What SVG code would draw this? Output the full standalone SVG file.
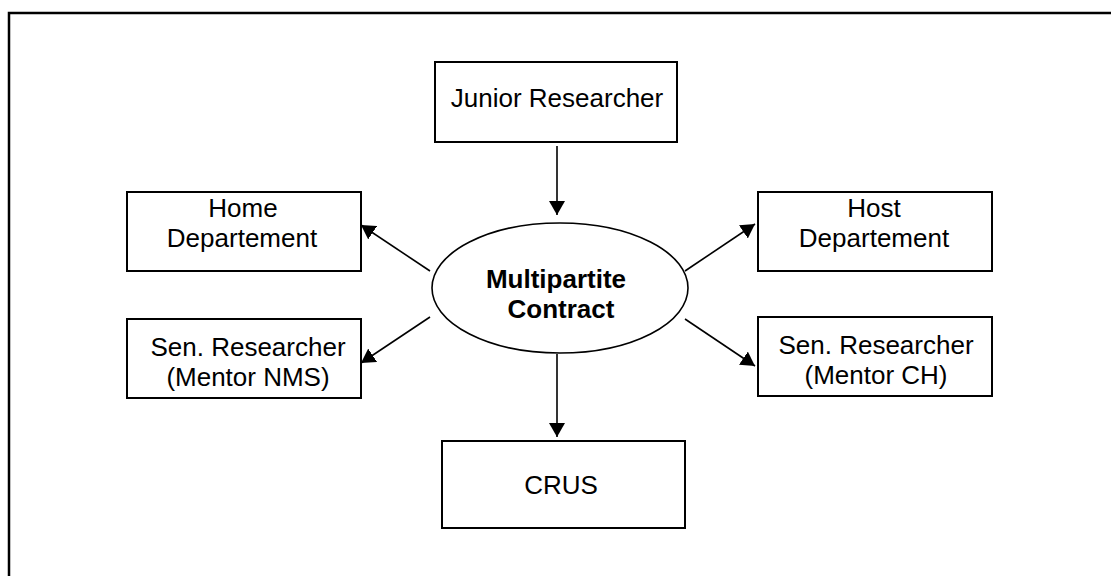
<svg xmlns="http://www.w3.org/2000/svg" width="1111" height="576" viewBox="0 0 1111 576">
<style>
.box{fill:#fff;stroke:#000;stroke-width:2}
.lbl{font-family:"Liberation Sans",Arial,sans-serif;font-size:26px;fill:#000;text-anchor:middle}
.b{font-weight:bold}
.conn line{stroke:#000;stroke-width:1.6}
</style>
<defs>
<marker id="arr" markerUnits="userSpaceOnUse" markerWidth="16" markerHeight="16" refX="14" refY="8" orient="auto">
<path d="M0,0 L14,8 L0,16 z" fill="#000"/>
</marker>
</defs>
<rect x="0" y="0" width="1111" height="576" fill="#fff"/>
<path d="M9,577 L9,13 L1112,13" fill="none" stroke="#000" stroke-width="2.5"/>
<g id="junior"><rect class="box" x="435" y="62" width="242" height="80"/><text class="lbl" x="557" y="107">Junior Researcher</text></g>
<g id="home"><rect class="box" x="127" y="192" width="234" height="79"/><text class="lbl" x="243" y="217">Home</text><text class="lbl" x="242" y="247">Departement</text></g>
<g id="nms"><rect class="box" x="127" y="319" width="234" height="79"/><text class="lbl" x="248" y="356">Sen. Researcher</text><text class="lbl" x="248" y="386">(Mentor NMS)</text></g>
<g id="host"><rect class="box" x="758" y="192" width="234" height="79"/><text class="lbl" x="874" y="217">Host</text><text class="lbl" x="874" y="247">Departement</text></g>
<g id="ch"><rect class="box" x="758" y="317" width="234" height="79"/><text class="lbl" x="876" y="354">Sen. Researcher</text><text class="lbl" x="876" y="384">(Mentor CH)</text></g>
<g id="crus"><rect class="box" x="442" y="441" width="243" height="87"/><text class="lbl" x="561" y="494">CRUS</text></g>
<g id="contract"><ellipse cx="560" cy="288" rx="128" ry="65" fill="#fff" stroke="#000" stroke-width="1.6"/><text class="lbl b" x="556" y="288">Multipartite</text><text class="lbl b" x="561" y="318">Contract</text></g>
<g class="conn">
<line x1="557" y1="146" x2="557" y2="215" marker-end="url(#arr)"/>
<line x1="557" y1="354" x2="557" y2="437" marker-end="url(#arr)"/>
<line x1="430" y1="271" x2="361" y2="225" marker-end="url(#arr)"/>
<line x1="430" y1="317" x2="361" y2="363" marker-end="url(#arr)"/>
<line x1="685" y1="271" x2="755" y2="224" marker-end="url(#arr)"/>
<line x1="685" y1="319" x2="755" y2="366" marker-end="url(#arr)"/>
</g>
</svg>
